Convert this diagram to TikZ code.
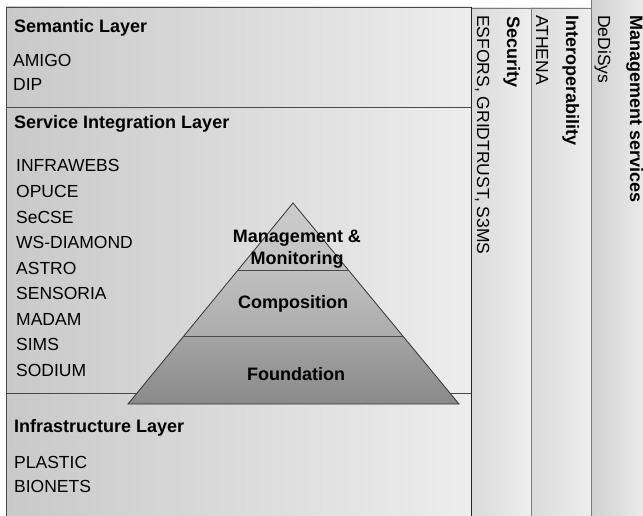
\documentclass[tikz,border=0pt]{standalone}
\usepackage{fontspec}
\setmainfont{Liberation Sans}
\usetikzlibrary{calc}
\definecolor{boxdark}{HTML}{C9C9C9}
\definecolor{boxlight}{HTML}{EDEDED}
\definecolor{coldark}{HTML}{DADADA}
\definecolor{collight}{HTML}{EEEEEE}
\definecolor{mgmtdark}{HTML}{D0D0D0}
\definecolor{edge}{HTML}{4A4A4A}
\definecolor{coledge}{HTML}{7A7A7A}
\begin{document}
\begin{tikzpicture}[x=1pt,y=-1pt,
  layerbox/.style={left color=boxdark, right color=boxlight},
  colbox/.style={left color=coldark, right color=collight},
  frame/.style={draw=edge, line width=0.9pt},
  head/.style={font=\fontsize{18}{21}\selectfont\bfseries, inner sep=0pt, anchor=base west},
  item/.style={font=\fontsize{17.5}{21}\selectfont, inner sep=0pt, anchor=base west},
  colhead/.style={head, rotate=-90},
  colitem/.style={item, rotate=-90},
  tier/.style={font=\fontsize{18}{21}\selectfont\bfseries, inner sep=0pt, anchor=base},
]
\clip (0,0) rectangle (643,516);
\fill[white] (0,0) rectangle (643,516);

% three stacked layers
\shade[layerbox] (6,7) rectangle (471,107);
\shade[layerbox] (6,107) rectangle (471,393);
\shade[layerbox] (6,393) rectangle (471,530);
\draw[frame] (6,530) -- (6,7) -- (471,7) -- (471,530);
\draw[frame] (6,107) -- (471,107);
\draw[frame] (6,393) -- (471,393);

% cross-cutting columns
\shade[colbox] (471,8) rectangle (531,530);
\shade[colbox] (531,8) rectangle (591,530);
\shade[left color=mgmtdark, right color=collight] (591,-5) rectangle (650,530);
\draw[draw=coledge, line width=0.9pt] (471,8) -- (591,8);
\draw[draw=coledge, line width=0.9pt] (531,8) -- (531,530);
\draw[draw=coledge, line width=0.9pt] (591,-5) -- (591,530);
\draw[draw=black!85, line width=1pt] (471,7) -- (471,530);

% layer texts
\node[head] (semh) at (14,33) {Semantic Layer};
\node[item] (amigo) at (13,67) {AMIGO};
\node[item] (dip) at (13,91) {DIP};

\node[head] (sih) at (14,129) {Service Integration Layer};
\node[item] (s1) at (16,172) {INFRAWEBS};
\node[item] (s2) at (16,197.5) {OPUCE};
\node[item] (s3) at (16,223) {SeCSE};
\node[item] (s4) at (16,248.5) {WS-DIAMOND};
\node[item] (s5) at (16,274) {ASTRO};
\node[item] (s6) at (16,299.5) {SENSORIA};
\node[item] (s7) at (16,325) {MADAM};
\node[item] (s8) at (16,350.5) {SIMS};
\node[item] (s9) at (16,376) {SODIUM};

\node[head] (infh) at (14,432) {Infrastructure Layer};
\node[item] (plastic) at (14,468) {PLASTIC};
\node[item] (bionets) at (14,492) {BIONETS};

% column texts, read top to bottom
\node[colhead] (sech) at (507,16) {Security};
\node[colitem] (secitems) at (477,15) {ESFORS, GRIDTRUST, S3MS};
\node[colhead] (interh) at (566,15) {Interoperability};
\node[colitem] (athena) at (536,15) {ATHENA};
\node[colhead] (mgmth) at (630,15) {Management services};
\node[colitem] (dedisys) at (598,15) {DeDiSys};

% pyramid
\coordinate (apex) at (293,203);
\coordinate (bl) at (128,404);
\coordinate (br) at (459,404);
\coordinate (l1) at ($(apex)!0.3333!(bl)$);
\coordinate (r1) at ($(apex)!0.3333!(br)$);
\coordinate (l2) at ($(apex)!0.6617!(bl)$);
\coordinate (r2) at ($(apex)!0.6617!(br)$);
\shade[top color=gray!40, bottom color=gray!48] (apex) -- (r1) -- (l1) -- cycle;
\shade[top color=gray!50, bottom color=gray!65] (l1) -- (r1) -- (r2) -- (l2) -- cycle;
\shade[top color=gray!72, bottom color=gray!92] (l2) -- (r2) -- (br) -- (bl) -- cycle;
\draw[edge, line width=0.9pt] (l1) -- (r1) (l2) -- (r2);
\draw[black!80, line width=0.8pt, line join=miter] (apex) -- (br) -- (bl) -- cycle;

\node[tier] (t1a) at (297,243) {Management \&};
\node[tier] (t1b) at (297,264) {Monitoring};
\node[tier] (t2) at (293,308) {Composition};
\node[tier] (t3) at (296,380) {Foundation};
\end{tikzpicture}
\end{document}
